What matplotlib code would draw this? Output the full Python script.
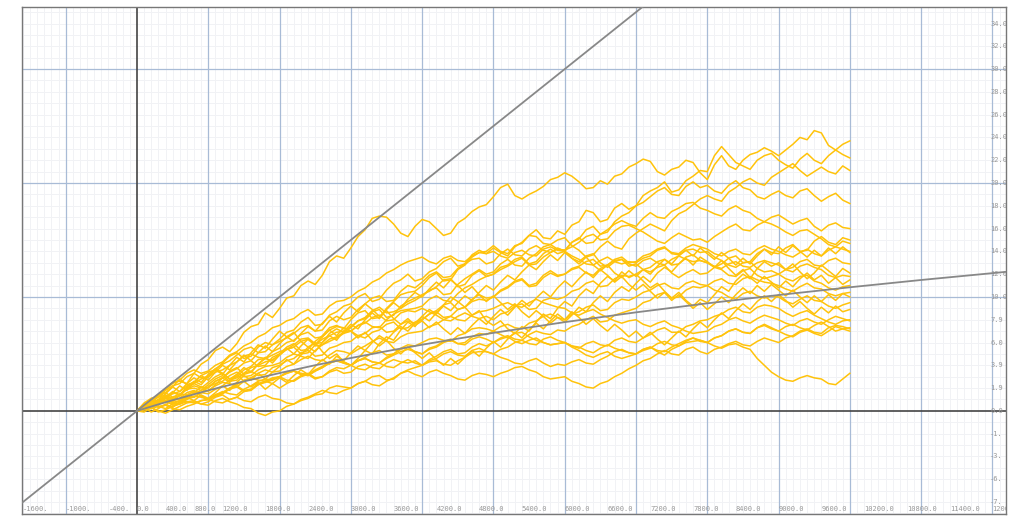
import numpy as np
import matplotlib
matplotlib.use("Agg")
import matplotlib.pyplot as plt
import matplotlib.transforms as mtransforms

# ---------------- data ----------------
steps = np.arange(0, 10001, 100)

walk01 = [0, 0.6, 0.8, 0.9, 1.9, 2.5, 2.6, 2.4, 3.3, 4.1, 4.5, 5.3, 5.6, 5.2, 5.9, 6.9, 7.4, 7.6, 8.6, 8.2, 9.0,
          9.9, 10.1, 11.0, 11.4, 11.1, 11.9, 13.1, 13.6, 13.4, 14.3, 15.3, 15.9, 16.9, 17.1, 17.0, 16.4, 15.6, 15.3, 16.2, 16.8,
          16.6, 16.0, 15.4, 15.6, 16.5, 16.9, 17.5, 17.9, 18.1, 18.8, 19.6, 19.9, 18.9, 18.6, 19.0, 19.3, 19.7, 20.3, 20.5, 20.9,
          20.6, 20.1, 19.5, 19.6, 20.2, 19.9, 20.6, 20.8, 21.4, 21.7, 22.1, 21.9, 21.0, 20.7, 21.2, 21.4, 22.0, 21.8, 20.9, 20.3,
          21.6, 22.4, 21.5, 21.2, 22.0, 22.5, 22.7, 23.1, 22.8, 22.4, 22.9, 23.4, 24.0, 23.8, 24.6, 24.4, 23.3, 22.9, 23.4, 23.7]
walk02 = [0, 0.1, 0.6, 1.0, 1.1, 1.6, 1.4, 1.9, 2.2, 2.0, 2.5, 3.0, 3.3, 2.8, 3.0, 3.6, 3.9, 4.5, 4.6, 4.4, 5.0,
          5.6, 5.9, 5.3, 5.4, 6.1, 6.6, 7.3, 7.5, 7.2, 8.0, 8.6, 8.8, 8.1, 8.2, 9.0, 9.6, 10.2, 10.4, 10.5, 11.0,
          11.7, 12.1, 11.4, 11.5, 12.4, 12.8, 13.5, 13.9, 14.0, 14.5, 14.0, 13.8, 14.5, 14.7, 15.4, 15.9, 15.2, 15.1, 15.8, 15.5,
          16.3, 16.6, 17.6, 17.4, 16.6, 16.8, 17.8, 18.2, 17.7, 18.0, 18.9, 19.3, 19.6, 20.1, 19.2, 19.4, 20.2, 20.6, 21.1, 21.0,
          22.4, 23.2, 22.5, 21.8, 21.5, 21.2, 22.0, 22.4, 22.6, 22.0, 21.6, 21.3, 22.1, 22.6, 22.0, 21.7, 22.4, 22.9, 22.5, 22.2]
walk03 = [0, 0.5, 0.9, 1.4, 1.6, 2.1, 2.8, 2.3, 2.5, 3.1, 3.4, 3.6, 4.2, 4.8, 5.1, 4.6, 4.8, 5.6, 6.0, 5.8, 6.3,
          6.9, 7.1, 7.8, 8.2, 7.5, 7.6, 8.4, 8.7, 9.2, 9.4, 10.0, 10.3, 9.6, 9.8, 10.6, 11.2, 11.5, 12.0, 11.4, 11.6,
          12.2, 12.5, 13.1, 13.4, 12.7, 12.9, 13.7, 14.1, 13.8, 14.3, 13.9, 13.6, 14.4, 14.8, 15.4, 15.3, 14.7, 14.6, 15.0, 15.2,
          14.5, 14.1, 13.5, 13.7, 14.4, 14.9, 14.4, 14.2, 15.1, 15.6, 16.0, 16.4, 16.1, 15.8, 16.7, 17.3, 17.6, 18.1, 18.6, 18.9,
          18.6, 18.4, 19.2, 19.6, 20.1, 20.4, 20.0, 19.8, 20.5, 20.9, 21.3, 21.7, 21.1, 20.6, 21.0, 21.4, 21.0, 20.8, 21.5, 21.1]
walk04 = [0, 0.3, 0.4, 0.9, 1.1, 0.7, 0.9, 1.4, 1.7, 1.6, 2.1, 2.6, 2.9, 3.5, 3.8, 3.2, 3.4, 4.1, 4.6, 4.9, 5.2,
          5.4, 5.8, 6.3, 6.4, 5.9, 6.0, 6.8, 7.2, 6.9, 7.3, 7.9, 8.1, 8.7, 8.9, 8.2, 8.4, 9.2, 9.6, 9.9, 10.2,
          10.5, 10.9, 11.5, 11.6, 10.9, 11.1, 11.9, 12.3, 11.8, 12.0, 12.6, 12.8, 13.3, 13.5, 12.9, 13.1, 13.8, 14.2, 13.8, 14.0,
          14.8, 15.1, 15.9, 16.2, 15.5, 15.7, 16.6, 17.1, 17.4, 18.0, 18.3, 18.8, 19.3, 19.6, 19.0, 18.9, 19.7, 20.1, 19.6, 19.8,
          19.3, 19.1, 19.8, 20.2, 19.6, 19.4, 18.8, 18.6, 19.0, 19.3, 18.9, 18.7, 19.3, 19.5, 18.9, 18.4, 18.8, 19.1, 18.5, 18.2]
walk05 = [0, 0.5, 0.7, 0.3, 0.5, 1.0, 1.4, 1.9, 2.0, 1.8, 2.3, 2.8, 3.1, 2.6, 2.7, 3.3, 3.8, 4.0, 4.3, 4.5, 4.9,
          5.4, 5.6, 5.0, 5.1, 5.8, 6.3, 6.6, 6.9, 7.0, 7.4, 7.9, 8.2, 8.8, 9.1, 8.6, 8.7, 9.0, 9.4, 9.7, 10.1,
          10.6, 10.8, 10.2, 10.3, 11.1, 11.6, 12.0, 12.4, 12.0, 12.2, 12.9, 13.3, 12.8, 12.7, 13.4, 13.8, 14.4, 14.6, 14.2, 14.1,
          14.8, 15.2, 14.7, 14.8, 15.5, 15.9, 16.4, 16.7, 16.4, 16.2, 16.9, 17.4, 17.0, 16.9, 17.5, 17.8, 18.2, 18.3, 17.8, 17.6,
          17.3, 17.1, 17.7, 18.0, 17.6, 17.4, 16.9, 16.6, 17.0, 17.2, 16.8, 16.4, 16.7, 16.9, 16.2, 15.8, 16.3, 16.5, 16.1, 16.0]
walk06 = [0, 0.7, 1.1, 1.3, 1.8, 2.2, 2.4, 3.0, 3.3, 2.9, 3.0, 3.7, 4.1, 4.4, 4.9, 5.4, 5.6, 5.1, 5.2, 5.8, 6.1,
          6.4, 6.8, 7.3, 7.5, 7.0, 7.1, 7.9, 8.3, 8.0, 8.2, 8.9, 9.4, 9.9, 10.1, 9.6, 9.7, 10.5, 11.0, 10.8, 11.3,
          11.9, 12.2, 11.7, 11.8, 12.5, 12.9, 13.3, 13.4, 12.9, 13.1, 13.8, 14.2, 13.7, 13.6, 14.2, 14.5, 14.1, 13.9, 14.3, 14.0,
          13.4, 13.1, 13.6, 13.8, 13.0, 12.6, 13.1, 13.3, 12.7, 12.9, 12.4, 12.2, 12.6, 12.8, 12.1, 11.7, 12.1, 12.4, 12.0, 12.1,
          12.6, 12.9, 13.4, 13.6, 13.0, 13.1, 13.8, 14.2, 13.9, 13.8, 14.3, 14.6, 14.0, 14.1, 14.9, 15.3, 14.8, 14.6, 15.2, 15.0]
walk07 = [0, 0.2, 0.5, 0.9, 1.2, 0.9, 0.8, 1.3, 1.5, 1.8, 2.1, 2.4, 2.6, 3.1, 3.4, 3.0, 3.1, 3.6, 3.9, 4.0, 4.2,
          4.7, 5.0, 4.8, 4.6, 5.3, 5.8, 6.1, 6.4, 6.8, 7.0, 7.5, 7.8, 7.4, 7.3, 8.0, 8.5, 8.8, 8.9, 9.0, 9.2,
          9.8, 10.1, 9.7, 9.6, 10.3, 10.8, 11.1, 11.5, 11.8, 12.0, 12.4, 12.7, 13.1, 13.4, 12.8, 12.9, 13.5, 13.9, 14.2, 14.1,
          14.4, 14.8, 15.3, 15.5, 15.0, 15.1, 15.8, 16.2, 16.3, 16.0, 15.7, 15.3, 14.9, 14.7, 15.2, 15.6, 15.3, 15.0, 15.1, 14.8,
          15.3, 15.7, 16.1, 16.4, 15.9, 15.8, 16.3, 16.6, 16.4, 16.1, 15.7, 15.4, 15.8, 15.9, 15.5, 15.1, 14.6, 14.4, 14.9, 14.7]
walk08 = [0, 0.5, 1.1, 0.8, 1.5, 2.1, 1.7, 2.4, 2.9, 2.5, 3.2, 3.7, 3.3, 2.8, 3.2, 2.6, 2.1, 2.5, 1.9, 2.4, 2.9,
          2.5, 3.1, 3.6, 3.2, 3.9, 4.5, 4.1, 4.8, 4.4, 5.1, 5.7, 5.3, 6.0, 6.6, 6.2, 6.9, 7.4, 7.0, 7.7, 8.3,
          7.9, 8.6, 9.2, 8.8, 9.5, 10.1, 9.7, 10.4, 11.0, 10.6, 11.3, 11.9, 11.5, 12.2, 12.8, 12.4, 13.1, 13.7, 13.2, 13.9,
          13.4, 12.9, 13.5, 12.8, 12.3, 12.8, 12.1, 11.7, 12.3, 11.8, 12.4, 12.0, 12.7, 13.3, 12.9, 13.6, 14.1, 13.6, 14.3, 13.8,
          13.3, 13.9, 13.4, 12.8, 13.4, 12.9, 13.6, 14.2, 13.7, 14.4, 13.9, 14.5, 14.0, 13.5, 14.1, 13.6, 14.3, 13.8, 14.4, 13.9]
walk09 = [0, -0.1, 0.3, 0.6, 0.9, 0.6, 0.7, 1.1, 1.2, 1.6, 1.5, 1.9, 2.2, 2.7, 2.9, 3.3, 3.5, 3.1, 3.2, 3.8, 4.0,
          4.4, 4.6, 5.1, 5.3, 4.8, 4.9, 5.5, 5.7, 6.0, 6.1, 6.6, 6.8, 7.3, 7.4, 6.9, 7.0, 7.6, 7.9, 7.7, 8.0,
          8.5, 8.8, 9.3, 9.5, 8.9, 9.1, 9.8, 10.2, 9.9, 10.0, 10.6, 10.9, 11.4, 11.6, 11.0, 11.2, 11.9, 12.3, 11.9, 12.0,
          12.5, 12.7, 13.1, 13.3, 12.7, 12.8, 13.3, 13.5, 13.0, 13.1, 13.6, 13.8, 14.2, 14.4, 13.8, 13.7, 14.1, 14.2, 13.9, 14.0,
          13.5, 13.2, 12.8, 12.6, 13.0, 13.1, 12.5, 12.2, 12.3, 12.0, 12.4, 12.6, 13.1, 13.3, 12.8, 12.7, 13.2, 13.4, 13.0, 12.9]
walk10 = [0, 0.4, 0.9, 0.6, 1.2, 1.7, 1.4, 2.1, 2.6, 2.3, 3.0, 3.6, 3.2, 4.0, 4.7, 4.3, 5.1, 5.8, 5.5, 6.3, 7.0,
          6.5, 6.9, 6.1, 5.6, 6.0, 5.2, 4.6, 5.0, 4.3, 4.0, 4.6, 5.3, 5.0, 5.9, 6.5, 6.2, 7.1, 7.8, 7.4, 8.3,
          8.9, 8.5, 9.3, 10.0, 9.6, 9.1, 8.4, 8.8, 7.9, 7.5, 7.9, 7.2, 6.8, 7.4, 7.0, 7.8, 8.5, 8.1, 9.0, 9.6,
          9.2, 10.1, 10.7, 10.3, 11.2, 11.8, 11.4, 12.2, 11.7, 12.0, 11.4, 10.8, 11.2, 10.5, 9.9, 10.4, 9.7, 9.2, 9.8, 9.5,
          10.2, 10.9, 10.5, 11.4, 12.0, 11.6, 12.5, 13.1, 12.7, 13.0, 12.4, 12.9, 12.2, 11.6, 12.1, 12.8, 12.3, 11.8, 12.5, 12.1]
walk11 = [0, 0.3, -0.1, 0.2, 0.6, 0.3, 0.8, 1.2, 0.9, 1.4, 1.1, 1.6, 2.2, 1.8, 2.5, 3.1, 2.7, 3.3, 2.8, 3.4, 3.9,
          4.5, 4.1, 4.9, 5.6, 5.2, 6.0, 6.6, 6.2, 7.0, 7.6, 7.2, 8.0, 8.6, 8.1, 8.9, 9.5, 9.0, 9.8, 10.4, 10.0,
          10.7, 11.3, 10.8, 11.5, 11.0, 10.4, 10.9, 10.2, 9.6, 10.1, 9.5, 8.9, 9.4, 8.7, 8.2, 8.8, 8.3, 7.7, 8.2, 7.8,
          8.4, 9.1, 8.7, 9.5, 10.1, 9.6, 10.4, 10.9, 10.5, 11.2, 11.8, 11.3, 12.1, 12.6, 12.2, 12.9, 13.4, 12.8, 13.5, 13.1,
          12.6, 13.2, 12.5, 11.9, 12.4, 11.7, 11.2, 11.8, 11.3, 10.8, 11.4, 10.9, 11.6, 12.1, 11.5, 11.9, 11.2, 11.7, 11.1, 11.5]
walk12 = [0, 0.5, 0.8, 1.3, 1.6, 1.2, 1.3, 2.0, 2.4, 2.1, 2.0, 2.6, 2.9, 3.4, 3.7, 4.2, 4.4, 3.9, 4.0, 4.7, 5.0,
          5.4, 5.6, 6.1, 6.3, 5.7, 5.8, 6.3, 6.5, 6.9, 7.0, 6.6, 6.4, 6.9, 7.1, 7.6, 7.8, 7.2, 7.3, 7.8, 8.0,
          8.5, 8.7, 8.2, 8.3, 8.9, 9.1, 9.6, 9.8, 9.7, 10.0, 10.5, 10.8, 11.3, 11.5, 10.9, 11.0, 11.7, 12.1, 11.8, 12.0,
          12.4, 12.6, 12.1, 11.9, 12.5, 12.8, 13.2, 13.3, 12.9, 12.7, 13.2, 13.4, 13.0, 12.8, 13.3, 13.6, 13.3, 13.1, 13.2, 13.0,
          12.6, 12.4, 11.9, 11.8, 12.3, 12.5, 11.9, 11.6, 11.8, 12.0, 11.6, 11.4, 11.8, 11.9, 11.4, 11.2, 10.8, 10.6, 10.9, 11.0]
walk13 = [0, 0.2, 0.3, -0.1, 0.1, 0.4, 0.6, 0.8, 0.9, 0.6, 0.8, 1.2, 1.4, 1.0, 1.2, 1.7, 1.9, 2.3, 2.5, 2.7, 3.0,
          2.7, 2.6, 3.0, 3.2, 2.8, 3.0, 3.4, 3.6, 3.3, 3.4, 3.9, 4.1, 3.8, 3.7, 4.2, 4.5, 4.3, 4.2, 4.4, 4.0,
          4.5, 4.8, 5.2, 5.4, 5.0, 5.1, 5.6, 5.9, 5.7, 6.0, 6.4, 6.6, 6.3, 6.2, 6.7, 7.0, 6.8, 6.7, 7.1, 7.0,
          7.4, 7.6, 8.0, 8.3, 7.8, 7.9, 8.4, 8.6, 8.8, 9.0, 9.5, 9.7, 10.2, 10.4, 9.9, 10.0, 10.6, 10.9, 10.8, 11.0,
          11.4, 11.6, 11.2, 11.1, 11.6, 11.8, 11.5, 11.3, 11.2, 11.0, 10.7, 10.5, 10.9, 11.2, 10.8, 10.7, 10.3, 10.1, 10.3, 10.4]
walk14 = [0, 0.4, 0.9, 0.5, 1.1, 1.6, 2.2, 1.8, 2.5, 3.1, 2.7, 3.4, 4.0, 3.6, 4.3, 4.9, 4.4, 5.1, 5.7, 5.2, 5.9,
          6.5, 6.1, 6.8, 7.4, 7.0, 7.7, 8.3, 7.8, 8.6, 9.2, 8.7, 9.4, 8.9, 8.3, 8.8, 8.1, 7.6, 8.1, 7.5, 7.9,
          7.3, 7.8, 7.2, 6.7, 7.3, 6.8, 7.5, 8.1, 7.6, 8.3, 8.9, 8.4, 9.1, 9.7, 9.2, 9.9, 10.5, 10.0, 10.8, 11.4,
          10.9, 11.6, 12.2, 11.7, 12.4, 11.9, 11.3, 11.8, 11.1, 10.6, 11.1, 10.5, 9.9, 10.4, 9.7, 10.2, 9.6, 9.0, 9.5, 8.9,
          9.4, 10.0, 9.5, 10.2, 10.8, 10.3, 11.0, 10.5, 11.1, 10.6, 10.1, 10.6, 10.0, 9.5, 10.1, 9.6, 10.2, 9.7, 10.3, 10.0]
walk15 = [0, 0.3, 0.5, 0.4, 0.2, 0.6, 0.9, 0.8, 0.7, 0.9, 1.0, 1.4, 1.7, 1.5, 1.4, 1.9, 2.2, 2.6, 2.8, 2.7, 3.0,
          3.4, 3.5, 3.3, 3.2, 3.6, 3.9, 4.3, 4.5, 4.3, 4.0, 4.4, 4.7, 5.1, 5.3, 4.9, 5.0, 5.5, 5.8, 5.7, 6.0,
          6.3, 6.4, 6.2, 6.1, 6.6, 6.8, 7.2, 7.3, 7.2, 7.0, 7.4, 7.6, 7.3, 7.2, 7.7, 7.9, 8.3, 8.5, 8.2, 8.0,
          8.5, 8.7, 9.1, 9.3, 8.8, 8.9, 9.5, 9.8, 9.7, 10.0, 10.4, 10.6, 11.0, 11.2, 10.8, 10.7, 11.2, 11.4, 11.1, 11.0,
          10.6, 10.4, 10.0, 9.8, 10.3, 10.5, 10.1, 9.9, 10.1, 10.0, 9.6, 9.4, 9.8, 10.1, 9.7, 9.6, 9.2, 9.0, 9.3, 9.5]
walk16 = [0, 0.5, 0.2, 0.7, 1.2, 0.8, 1.4, 1.0, 1.6, 2.1, 1.7, 2.3, 2.9, 2.5, 3.2, 3.8, 3.4, 4.1, 4.7, 4.2, 4.9,
          5.5, 5.0, 5.7, 6.3, 5.8, 6.5, 7.1, 6.6, 7.3, 7.0, 6.4, 6.9, 6.2, 5.7, 6.2, 5.5, 5.0, 5.6, 5.1, 4.6,
          5.1, 4.5, 4.0, 4.6, 4.1, 4.7, 5.3, 4.8, 5.5, 6.1, 5.6, 6.3, 6.9, 6.4, 7.1, 7.7, 7.2, 7.9, 8.5, 8.0,
          8.7, 8.2, 7.6, 8.1, 7.5, 7.0, 7.6, 7.1, 6.5, 7.0, 6.4, 6.9, 6.3, 5.8, 6.4, 7.0, 6.5, 7.2, 7.8, 7.3,
          8.0, 8.6, 8.1, 8.8, 9.4, 8.9, 9.6, 10.1, 9.6, 10.2, 9.7, 9.1, 9.6, 9.0, 8.5, 9.1, 8.6, 9.2, 8.7, 8.9]
walk17 = [0, 0.3, 0.4, 0.7, 0.9, 0.5, 0.6, 1.0, 1.3, 1.2, 1.0, 1.3, 1.5, 1.9, 2.1, 1.7, 1.8, 2.3, 2.6, 2.4, 2.0,
          2.4, 2.7, 3.1, 3.3, 2.9, 3.0, 3.5, 3.8, 3.7, 4.0, 4.4, 4.6, 4.3, 4.2, 4.7, 5.0, 5.4, 5.6, 5.2, 5.0,
          5.5, 5.7, 6.1, 6.3, 5.9, 6.0, 6.5, 6.8, 6.7, 7.0, 6.7, 6.4, 6.8, 6.9, 6.5, 6.2, 6.0, 5.8, 5.9, 6.0,
          5.7, 5.5, 5.9, 6.1, 5.8, 5.7, 6.2, 6.4, 6.1, 6.0, 6.4, 6.7, 7.1, 7.3, 6.9, 6.9, 7.4, 7.6, 7.9, 8.0,
          8.3, 8.5, 8.9, 9.1, 8.7, 8.6, 9.1, 9.3, 9.2, 9.0, 8.6, 8.3, 8.6, 8.8, 8.4, 8.1, 7.8, 7.6, 7.9, 8.0]
walk18 = [0, 0.1, 0.2, 0.4, 0.5, 0.2, 0.1, 0.4, 0.6, 0.9, 1.0, 0.8, 0.7, 1.0, 1.2, 0.9, 0.8, 1.2, 1.4, 1.1, 1.0,
          0.7, 0.6, 0.9, 1.1, 1.4, 1.5, 2.0, 2.2, 2.1, 2.0, 2.4, 2.6, 3.0, 3.1, 2.7, 2.8, 3.3, 3.6, 3.8, 4.0,
          4.3, 4.4, 4.1, 4.0, 4.4, 4.7, 5.1, 5.2, 5.2, 5.0, 4.7, 4.5, 4.2, 4.1, 4.4, 4.6, 4.2, 3.9, 4.1, 4.0,
          4.3, 4.5, 4.2, 4.1, 4.5, 4.8, 5.2, 5.4, 5.1, 5.0, 5.4, 5.6, 5.3, 5.2, 5.6, 5.9, 6.2, 6.4, 6.1, 6.0,
          6.4, 6.6, 7.0, 7.2, 6.9, 6.8, 7.3, 7.5, 7.2, 7.0, 7.4, 7.6, 7.3, 7.1, 7.5, 7.8, 7.4, 7.0, 7.2, 7.3]
walk19 = [0, 0.5, 0.8, 1.2, 1.4, 1.0, 1.1, 1.6, 1.8, 1.3, 1.0, 1.4, 1.6, 2.0, 2.3, 2.7, 2.9, 2.7, 2.6, 2.9, 3.0,
          3.3, 3.5, 3.2, 3.1, 3.5, 3.8, 4.2, 4.4, 4.2, 4.0, 3.7, 3.6, 4.0, 4.2, 3.9, 3.8, 4.2, 4.5, 4.2, 4.0,
          4.4, 4.6, 5.0, 5.2, 4.9, 4.8, 5.3, 5.5, 5.2, 5.0, 5.4, 5.6, 6.0, 6.2, 5.9, 5.8, 6.3, 6.5, 6.2, 6.0,
          5.7, 5.6, 5.3, 5.1, 5.5, 5.8, 5.5, 5.3, 5.1, 5.0, 5.3, 5.5, 5.9, 6.1, 5.8, 5.7, 6.1, 6.4, 6.2, 6.0,
          6.4, 6.6, 7.0, 7.2, 6.9, 6.8, 7.3, 7.6, 7.3, 7.0, 6.7, 6.5, 6.9, 7.1, 6.8, 6.6, 7.0, 7.4, 7.2, 7.0]
walk20 = [0, 0.4, 0.6, 1.0, 1.3, 1.1, 1.0, 1.4, 1.7, 1.3, 1.0, 1.4, 1.6, 2.0, 2.2, 1.8, 1.9, 2.4, 2.6, 2.8, 3.0,
          3.3, 3.5, 3.2, 3.1, 3.5, 3.8, 4.2, 4.4, 4.2, 4.0, 4.4, 4.6, 4.3, 4.2, 4.6, 4.9, 5.2, 5.4, 5.2, 5.0,
          5.4, 5.6, 6.0, 6.2, 5.9, 5.8, 6.3, 6.5, 6.3, 6.0, 6.3, 6.5, 6.1, 5.9, 6.2, 6.4, 6.0, 5.8, 5.9, 6.0,
          5.6, 5.3, 4.9, 4.7, 5.0, 5.2, 4.8, 4.6, 4.8, 5.0, 5.4, 5.6, 5.2, 4.9, 5.4, 5.7, 6.0, 6.1, 6.2, 6.0,
          5.7, 5.5, 5.8, 5.9, 5.6, 5.4, 4.6, 4.0, 3.4, 3.0, 2.7, 2.6, 2.9, 3.1, 2.9, 2.8, 2.4, 2.3, 2.8, 3.3]
walk21 = [0, 0.2, 0.3, 0.0, -0.2, 0.1, 0.4, 0.7, 0.8, 0.6, 0.5, 0.9, 1.1, 0.8, 0.6, 0.3, 0.2, -0.2, -0.4, -0.1, 0.0,
          0.4, 0.6, 1.0, 1.2, 1.5, 1.8, 1.6, 1.5, 1.8, 2.0, 2.4, 2.6, 2.3, 2.2, 2.6, 2.9, 3.3, 3.5, 3.2, 3.0,
          3.4, 3.6, 3.3, 3.1, 2.8, 2.7, 3.1, 3.3, 3.2, 3.0, 3.3, 3.5, 3.8, 3.9, 3.6, 3.4, 3.0, 2.8, 2.9, 3.0,
          2.6, 2.4, 2.1, 2.0, 2.4, 2.6, 3.0, 3.3, 3.7, 4.0, 4.4, 4.6, 5.0, 5.3, 5.0, 4.9, 5.4, 5.6, 5.2, 5.0,
          5.4, 5.6, 5.9, 6.1, 5.8, 5.7, 6.1, 6.4, 6.2, 6.0, 6.4, 6.6, 7.0, 7.2, 6.9, 6.8, 7.3, 7.5, 7.4, 7.2]
walk22 = [0, 0.4, 0.5, 0.7, 1.1, 1.5, 1.7, 2.2, 2.4, 2.8, 3.0, 3.4, 3.6, 4.0, 4.3, 4.8, 5.0, 4.7, 4.6, 5.2, 5.5,
          6.0, 6.2, 6.7, 6.9, 6.4, 6.5, 7.1, 7.4, 7.3, 7.0, 7.5, 7.7, 8.2, 8.4, 7.9, 8.0, 8.6, 8.8, 8.7, 9.0,
          8.7, 8.4, 8.0, 7.9, 8.3, 8.6, 8.3, 8.1, 8.3, 8.0, 8.5, 8.7, 9.2, 9.4, 8.9, 9.0, 9.7, 9.9, 9.8, 10.0,
          10.5, 10.7, 11.2, 11.4, 10.9, 11.0, 11.6, 11.9, 11.8, 12.0, 12.4, 12.6, 13.1, 13.3, 12.8, 12.9, 13.5, 13.7, 13.2, 13.0,
          12.7, 12.5, 12.9, 13.1, 12.7, 12.6, 13.0, 13.2, 13.0, 12.8, 12.4, 12.2, 12.7, 12.9, 12.6, 12.4, 11.9, 11.7, 11.9, 11.8]
walk23 = [0, 0.6, 1.0, 1.3, 1.9, 2.4, 2.7, 3.3, 3.6, 3.3, 3.5, 4.0, 4.3, 4.9, 5.2, 5.7, 6.0, 6.5, 6.8, 7.3, 7.5,
          7.9, 8.1, 8.6, 8.9, 8.4, 8.5, 9.2, 9.6, 9.7, 10.0, 10.5, 10.8, 11.3, 11.6, 12.1, 12.4, 12.8, 13.1, 13.3, 13.5,
          13.1, 12.9, 13.4, 13.6, 13.2, 13.1, 13.6, 13.9, 13.8, 14.0, 13.6, 13.4, 13.9, 14.1, 13.7, 13.6, 14.2, 14.4, 14.1, 14.0,
          13.6, 13.3, 12.9, 12.8, 13.2, 13.5, 13.1, 12.9, 13.1, 13.0, 13.4, 13.6, 14.1, 14.3, 13.9, 13.8, 14.3, 14.6, 14.4, 14.2,
          13.8, 13.6, 14.0, 14.2, 13.8, 13.7, 14.2, 14.5, 14.2, 14.0, 13.7, 13.5, 13.9, 14.2, 13.8, 13.6, 14.1, 14.4, 14.2, 14.0]
walk24 = [0, 0.3, 0.4, 0.7, 0.8, 1.2, 1.5, 1.4, 1.2, 1.6, 1.8, 2.2, 2.5, 2.4, 2.1, 2.6, 2.9, 3.3, 3.6, 3.4, 3.5,
          3.9, 4.1, 4.5, 4.8, 4.5, 4.4, 4.9, 5.3, 5.2, 5.0, 5.4, 5.7, 6.1, 6.4, 6.1, 6.0, 6.5, 6.8, 6.9, 7.0,
          7.4, 7.6, 8.0, 8.3, 8.0, 7.9, 8.4, 8.7, 8.8, 9.0, 9.3, 9.5, 9.2, 9.1, 9.5, 9.8, 9.5, 9.3, 9.1, 9.0,
          8.6, 8.4, 8.7, 8.9, 8.5, 8.2, 7.9, 7.7, 7.9, 8.0, 7.6, 7.4, 7.7, 7.9, 7.5, 7.3, 7.0, 6.8, 6.9, 7.0,
          7.4, 7.6, 8.0, 8.2, 7.9, 7.7, 8.1, 8.4, 8.2, 8.0, 7.7, 7.5, 7.9, 8.1, 7.8, 7.6, 8.0, 8.3, 8.1, 7.9]

walks = [walk01, walk02, walk03, walk04, walk05, walk06, walk07, walk08, walk09, walk10, walk11, walk12,
         walk13, walk14, walk15, walk16, walk17, walk18, walk19, walk20, walk21, walk22, walk23, walk24]

curve_x = [0, 250, 500, 1000, 1500, 2000, 2500, 3000, 3500, 4000, 4500, 5000,
           6000, 7000, 8000, 9000, 10000, 11000, 12000, 12300]
curve_y = [0, 0.48, 0.94, 1.80, 2.59, 3.32, 4.01, 4.64, 5.24, 5.81, 6.34, 6.85,
           7.79, 8.65, 9.44, 10.17, 10.85, 11.49, 12.09, 12.27]

diag_x = [-2000, 8000]
diag_y = [-10, 40]

xtick_vals = [-1600, -1000, -400, 0, 400, 800, 1200, 1800, 2400, 3000, 3600, 4200, 4800,
              5400, 6000, 6600, 7200, 7800, 8400, 9000, 9600, 10200, 10800, 11400, 12000]
xtick_labels = ["-1600.", "-1000.", "-400.", "0.0", "400.0", "800.0", "1200.0", "1800.0",
                "2400.0", "3000.0", "3600.0", "4200.0", "4800.0", "5400.0", "6000.0",
                "6600.0", "7200.0", "7800.0", "8400.0", "9000.0", "9600.0", "10200.0",
                "10800.0", "11400.0", "1200"]
ytick_vals = [34, 32, 30, 28, 26, 24, 22, 20, 18, 16, 14, 12, 10, 8, 6, 4, 2, 0, -2, -4, -6, -8]
ytick_labels = ["34.0", "32.0", "30.0", "28.0", "26.0", "24.0", "22.0", "20.0", "18.0",
                "16.0", "14.0", "12.0", "10.0", "7.9", "6.0", "3.9", "1.9", "0.0",
                "-1.", "-3.", "-6.", "-7."]

# ---------------- figure ----------------
fig = plt.figure(figsize=(10.24, 5.21), dpi=100)
ax = fig.add_axes([22/1024, 1 - 514/521, (1006 - 22)/1024, (514 - 7)/521])
ax.set_xlim(-1613, 12190)
ax.set_ylim(-9.05, 35.45)

major_x = np.arange(-1000, 12001, 1000)
minor_x = [v for v in np.arange(-1600, 12200, 100) if v % 1000 != 0]
major_y = [10, 20, 30]
minor_y = [v for v in np.arange(-9, 36, 1) if v % 10 != 0]

ax.vlines(minor_x, -20, 40, color="#f1f2f5", linewidth=0.7, zorder=0)
ax.hlines(minor_y, -3000, 13000, color="#f1f2f5", linewidth=0.7, zorder=0)
ax.vlines([v for v in major_x if v != 0], -20, 40, color="#a8bbd6", linewidth=0.9, zorder=0.5)
ax.hlines(major_y, -3000, 13000, color="#a8bbd6", linewidth=0.9, zorder=0.5)
ax.set_xticks([])
ax.set_yticks([])

for s in ax.spines.values():
    s.set_color("#777777")
    s.set_linewidth(1.0)

ax.axhline(0, color="#444444", linewidth=1.2, zorder=1)
ax.axvline(0, color="#444444", linewidth=1.2, zorder=1)

for w in walks:
    n = min(len(w), len(steps))
    ax.plot(steps[:n], w[:n], color="#ffc30b", linewidth=1.1, zorder=2,
            solid_joinstyle="round")

ax.plot(diag_x, diag_y, color="#888888", linewidth=1.3, zorder=3)
ax.plot(curve_x, curve_y, color="#888888", linewidth=1.3, zorder=3)

tx = mtransforms.blended_transform_factory(ax.transData, ax.transAxes)
for v, lab in zip(xtick_vals, xtick_labels):
    ax.text(v, 0.004, lab, transform=tx, ha="left", va="bottom", fontsize=5,
            family="DejaVu Sans Mono", color="#999999", clip_on=True, zorder=1.5)
ty = mtransforms.blended_transform_factory(ax.transAxes, ax.transData)
for v, lab in zip(ytick_vals, ytick_labels):
    ax.text(0.9838, v, lab, transform=ty, ha="left", va="center", fontsize=5,
            family="DejaVu Sans Mono", color="#999999", clip_on=True, zorder=1.5)

fig.savefig("out.png", dpi=100)
